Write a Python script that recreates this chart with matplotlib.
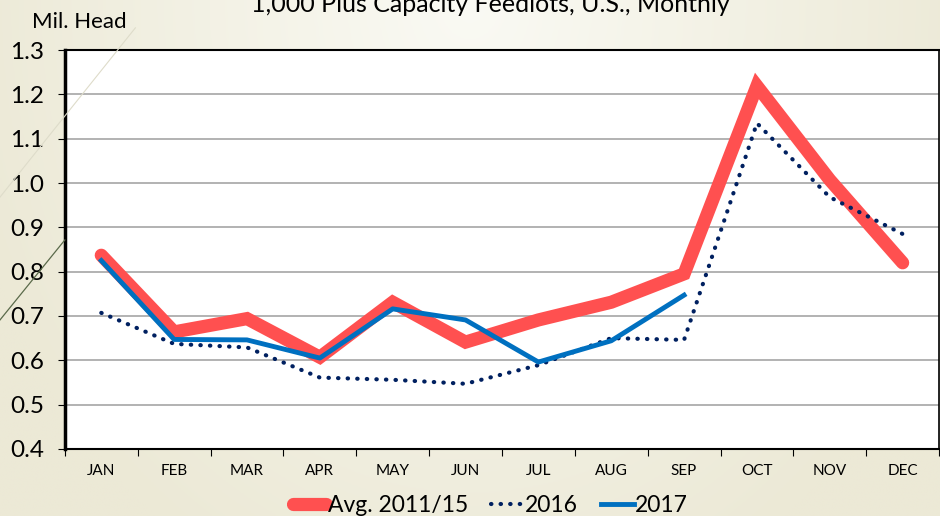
import numpy as np
import matplotlib.pyplot as plt
from matplotlib.lines import Line2D

months = ['JAN', 'FEB', 'MAR', 'APR', 'MAY', 'JUN', 'JUL', 'AUG', 'SEP', 'OCT', 'NOV', 'DEC']
avg_2011_15 = [0.837, 0.664, 0.694, 0.607, 0.731, 0.641, 0.691, 0.731, 0.795, 1.219, 1.007, 0.820]
y2016 = [0.707, 0.637, 0.629, 0.561, 0.556, 0.547, 0.589, 0.650, 0.646, 1.135, 0.968, 0.885]
y2017 = [0.825, 0.647, 0.646, 0.605, 0.716, 0.691, 0.596, 0.644, 0.747]

plt.rcParams['font.family'] = ['Lato', 'DejaVu Sans']

fig = plt.figure(figsize=(9.4, 5.16), dpi=100)

# beige background, lighter towards the upper middle
bg = fig.add_axes([0, 0, 1, 1], zorder=-10)
gx, gy = np.meshgrid(np.linspace(-1, 1, 300), np.linspace(0, 1, 200))
d = np.clip(np.sqrt((gx * 0.9) ** 2 + (gy * 0.8) ** 2), 0, 1)
light = np.array([250, 250, 244]) / 255
dark = np.array([236, 233, 214]) / 255
img = light[None, None, :] * (1 - d[..., None]) + dark[None, None, :] * d[..., None]
bg.imshow(img, extent=[0, 1, 0, 1], aspect='auto', origin='upper')
bg.axis('off')
fig.add_artist(Line2D([0.0, 0.069], [0.380, 0.535], color='#5a6a4a', lw=0.9, transform=fig.transFigure))
fig.add_artist(Line2D([0.0, 0.144], [0.618, 0.946], color='#dedcca', lw=0.8, transform=fig.transFigure))

ax = fig.add_axes([0.069, 0.130, 0.930, 0.773])
ax.set_facecolor('white')
x = np.arange(len(months))

ax.plot(x, avg_2011_15, color='#FF5050', lw=9.5, solid_capstyle='round', solid_joinstyle='miter', zorder=3,
        label='Avg. 2011/15')
ax.plot(x, y2016, color='#002060', lw=3, linestyle=(0, (0.1, 2.2)), dash_capstyle='round', zorder=4,
        label='2016')
ax.plot(np.arange(len(y2017)), y2017, color='#0070C0', lw=3.5, zorder=5, label='2017')

ax.set_xlim(-0.5, len(months) - 0.5)
ax.set_ylim(0.4, 1.3)
ax.set_yticks(np.arange(0.4, 1.31, 0.1))
ax.set_yticklabels([f'{v:.1f}' for v in np.arange(0.4, 1.31, 0.1)], fontsize=17.5)
ax.set_xticks(x)
ax.set_xticklabels(months, fontsize=11, family=['Liberation Sans Narrow', 'Lato'])
ax.set_xticks(np.arange(-0.5, len(months)), minor=True)
ax.tick_params(axis='x', which='major', length=0, pad=11)
ax.tick_params(axis='x', which='minor', length=5, width=0.8, direction='out')
ax.tick_params(axis='y', length=5, width=0.8, pad=10)
ax.grid(axis='y', color='#a6a6a6', lw=1.2)
ax.set_axisbelow(True)
ax.spines['left'].set_linewidth(2.5)
ax.spines['bottom'].set_linewidth(1.5)
ax.spines['top'].set_linewidth(1.5)
ax.spines['right'].set_linewidth(1.2)

fig.text(0.034, 0.946, 'Mil. Head', fontsize=16, va='baseline')
fig.text(0.522, 1.014, '1,000 Plus Capacity Feedlots, U.S., Monthly', fontsize=18, ha='center', va='top')

fig.legend(loc='lower center', bbox_to_anchor=(0.522, -0.04), ncol=3, frameon=False, fontsize=16.5,
           handlelength=1.45, handletextpad=0.05, columnspacing=1.0)

fig.savefig('out.png', dpi=100)
